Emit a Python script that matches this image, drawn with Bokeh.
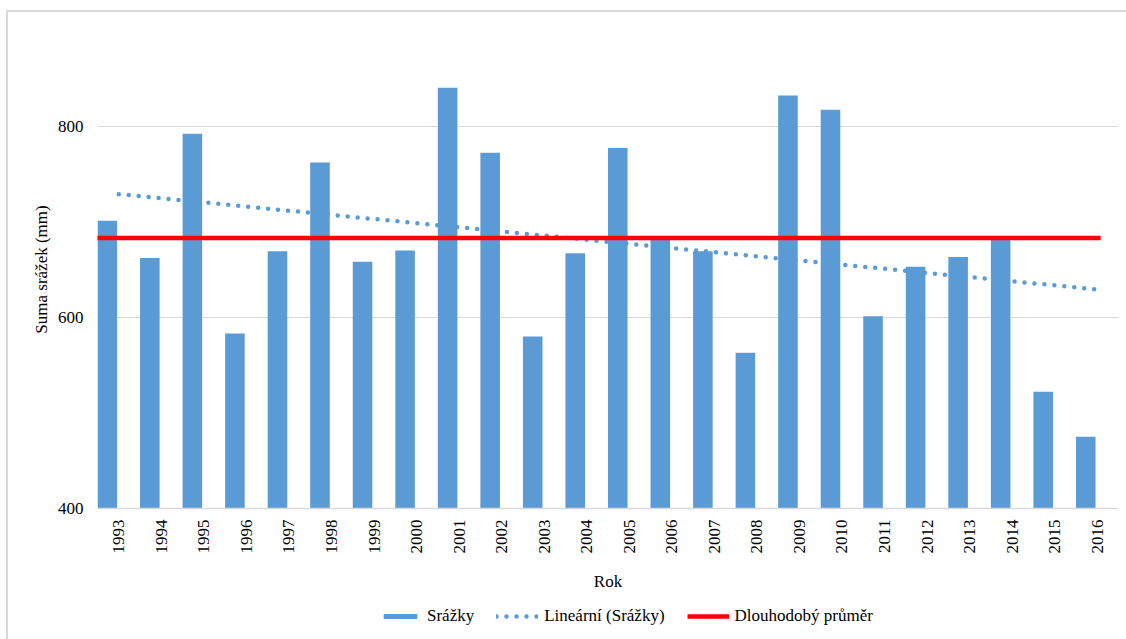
import math
import numpy as np
from bokeh.plotting import figure
from bokeh.layouts import column
from bokeh.models import Range1d, FixedTicker, Legend, LegendItem, ColumnDataSource
from bokeh.embed import file_html
from bokeh.resources import INLINE

# Roční úhrny srážek (mm)
years = [1993, 1994, 1995, 1996, 1997, 1998, 1999, 2000, 2001, 2002, 2003, 2004,
         2005, 2006, 2007, 2008, 2009, 2010, 2011, 2012, 2013, 2014, 2015, 2016]
srazky = [701, 662, 792, 583, 669, 762, 658, 670, 840, 772, 580, 667,
          777, 682, 669, 563, 832, 817, 601, 653, 663, 685, 522, 475]
dlouhodoby_prumer = 683
y_ticks = [400, 600, 800]

FONT = "Liberation Serif"
BLUE = "#5B9BD5"
RED = "#FF0000"
GRID = "#D9D9D9"

idx = np.arange(len(years))

# linear trendline fitted to the yearly totals
slope, intercept = np.polyfit(idx, srazky, 1)
trend = intercept + slope * idx

p = figure(width=1118, height=588,
           x_range=Range1d(-0.5, len(years) - 0.5),
           y_range=Range1d(400, 900),
           output_backend="svg", toolbar_location=None,
           min_border_left=89, min_border_right=8,
           min_border_top=18, min_border_bottom=92)
p.outline_line_color = None
p.background_fill_color = "white"
p.border_fill_color = "white"

# columns sit left of the category centre (clustered layout)
bar_shift = -0.27
bar_width = 0.46
p.vbar(x=idx + bar_shift, top=srazky, bottom=y_ticks[0], width=bar_width,
       fill_color=BLUE, line_color=None)

p.line(idx, trend, line_color=BLUE, line_width=4.5,
       line_dash="0 10", line_cap="round")

mean_x = [idx[0] - 0.64, idx[-1] + 0.08]
p.line(mean_x, [dlouhodoby_prumer, dlouhodoby_prumer],
       line_color=RED, line_width=4.5)

# axes
p.yaxis.ticker = FixedTicker(ticks=y_ticks)
p.ygrid.ticker = FixedTicker(ticks=y_ticks)
p.ygrid.grid_line_color = GRID
p.xgrid.grid_line_color = None
p.yaxis.axis_line_color = None
p.yaxis.major_tick_line_color = None
p.yaxis.minor_tick_line_color = None
p.yaxis.major_label_standoff = 8
p.yaxis.axis_label = "Suma srážek (mm)"
p.yaxis.axis_label_standoff = 4

p.xaxis.ticker = FixedTicker(ticks=list(idx))
p.xaxis.major_label_overrides = {int(i): str(y) for i, y in zip(idx, years)}
p.xaxis.major_label_orientation = math.pi / 2
p.xaxis.major_label_standoff = 5
p.xaxis.axis_line_color = GRID
p.xaxis.axis_line_width = 1.5
p.xaxis.major_tick_line_color = None
p.xaxis.minor_tick_line_color = None
p.xaxis.axis_label = "Rok"
p.xaxis.axis_label_standoff = 15

for ax in (p.xaxis, p.yaxis):
    ax.major_label_text_font = FONT
    ax.major_label_text_font_size = "17px"
    ax.major_label_text_color = "black"
    ax.axis_label_text_font = FONT
    ax.axis_label_text_font_size = "17px"
    ax.axis_label_text_font_style = "normal"
    ax.axis_label_text_color = "black"

# legend strip under the chart (its frame lines up with the chart's frame)
leg = figure(width=1118, height=39, x_range=Range1d(0, 1), y_range=Range1d(0, 1),
             output_backend="svg", toolbar_location=None,
             min_border_left=89, min_border_right=8,
             min_border_top=0, min_border_bottom=0)
leg.axis.visible = False
leg.grid.visible = False
leg.outline_line_color = None
leg.background_fill_color = "white"
leg.border_fill_color = "white"
key_src = ColumnDataSource(data=dict(x=[np.nan], y=[np.nan]))
r_bar = leg.vbar(x="x", top="y", width=1, source=key_src,
                 fill_color=BLUE, line_color=None)
r_trend = leg.line(x="x", y="y", source=key_src, line_color=BLUE, line_width=4.5,
                   line_dash="0 10", line_cap="round")
r_mean = leg.line(x="x", y="y", source=key_src, line_color=RED, line_width=4.5)

legend = Legend(items=[
    LegendItem(label="Srážky", renderers=[r_bar]),
    LegendItem(label="Lineární (Srážky)", renderers=[r_trend]),
    LegendItem(label="Dlouhodobý průměr", renderers=[r_mean]),
], orientation="horizontal", location=(282, 13),
    glyph_width=42, glyph_height=6, label_height=20,
    label_standoff=6, spacing=22, padding=0, margin=0,
    label_text_font=FONT, label_text_font_size="17px", label_text_color="black",
    border_line_color=None, background_fill_alpha=0)
leg.add_layout(legend, "center")

page = column(p, leg, spacing=0, margin=(10, 0, 0, 6),
              styles={"border-left": "2px solid #D9D9D9",
                      "border-top": "2px solid #D9D9D9"})

open("out.html", "w").write(file_html(page, INLINE))
